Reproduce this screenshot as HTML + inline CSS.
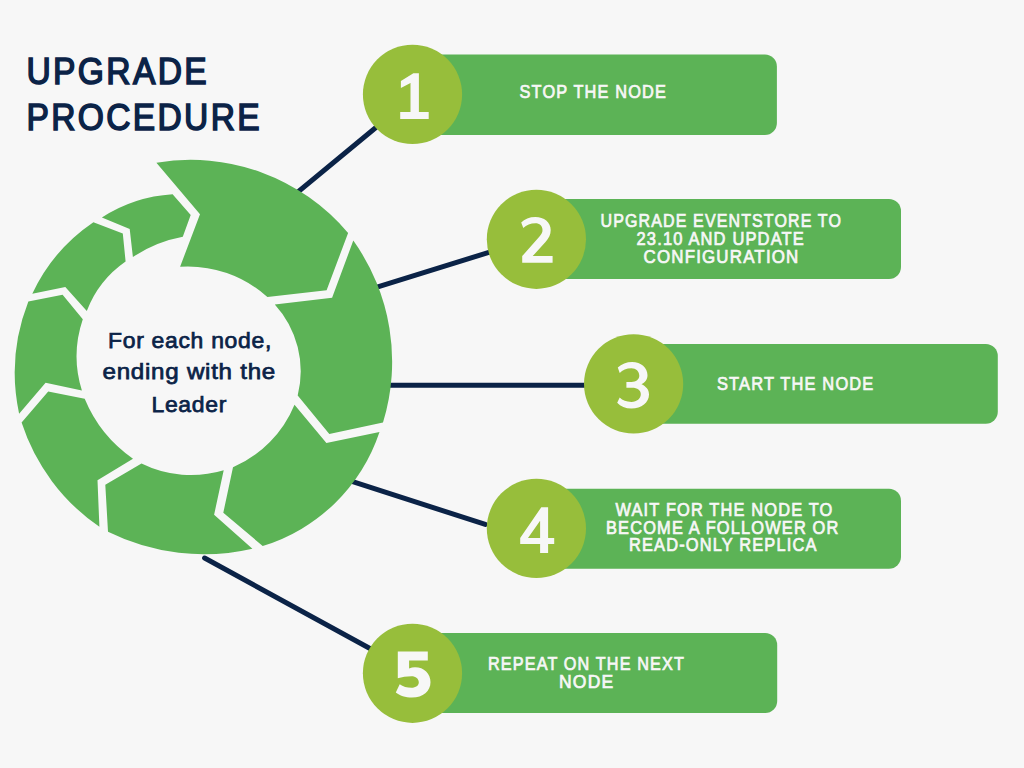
<!DOCTYPE html>
<html><head><meta charset="utf-8"><style>
html,body{margin:0;padding:0;background:#f7f7f7;}
svg{display:block;font-family:"Liberation Sans",sans-serif;}
</style></head><body>
<svg width="1024" height="768" viewBox="0 0 1024 768">
<rect width="1024" height="768" fill="#f7f7f7"/>
<line x1="250.0" y1="231.5" x2="412.5" y2="97.2" stroke="#0b2347" stroke-width="5" stroke-linecap="round"/>
<line x1="340.0" y1="298.6" x2="536.4" y2="237.6" stroke="#0b2347" stroke-width="5" stroke-linecap="round"/>
<line x1="350.0" y1="385.2" x2="633.6" y2="385.2" stroke="#0b2347" stroke-width="5" stroke-linecap="round"/>
<line x1="300.0" y1="464.7" x2="485.3" y2="524.4" stroke="#0b2347" stroke-width="5" stroke-linecap="round"/>
<line x1="204.6" y1="558.0" x2="412.5" y2="671.8" stroke="#0b2347" stroke-width="5" stroke-linecap="round"/>
<path d="M156.40 162.70 A205.99 205.99 0 0 1 348.10 233.00 L326.60 290.30 L267.40 297.10 A118.86 118.86 0 0 0 180.10 266.70 L200.00 214.30 ZM353.30 240.60 A207.91 207.91 0 0 1 383.00 422.60 L329.30 434.10 L297.70 395.40 A99.13 99.13 0 0 0 274.80 304.40 L332.10 297.70 ZM379.50 431.90 A177.96 177.96 0 0 1 262.70 546.00 L223.30 512.70 L233.00 467.30 A116.46 116.46 0 0 0 294.50 404.70 L326.40 443.00 ZM252.40 548.70 A216.25 216.25 0 0 1 108.00 531.80 L105.30 484.70 L141.50 463.50 A112.10 112.10 0 0 0 223.70 470.30 L214.10 514.80 ZM99.40 526.80 A201.90 201.90 0 0 1 21.60 422.60 L48.20 391.60 L84.70 398.80 A135.87 135.87 0 0 0 133.00 458.70 L97.50 480.30 ZM19.10 413.70 A195.79 195.79 0 0 1 28.35 301.50 L62.60 294.80 L82.80 319.20 A114.71 114.71 0 0 0 81.90 390.50 L45.60 382.70 ZM32.30 293.70 A176.86 176.86 0 0 1 93.40 222.20 L122.80 233.60 L125.60 261.50 A106.65 106.65 0 0 0 86.80 310.90 L65.30 287.10 ZM101.90 217.50 A146.99 146.99 0 0 1 172.60 194.30 L190.70 215.10 L182.80 236.80 A133.97 133.97 0 0 0 132.90 257.00 L129.70 229.00 Z" fill="#5cb356"/>
<rect x="412.5" y="54.6" width="364.4" height="80.3" rx="12" fill="#5cb356"/>
<circle cx="412.5" cy="94.4" r="49.6" fill="#97be3b"/>
<path d="M400.9 81 L413.4 73.2 L418.9 73.2 L418.9 111.9 L428.7 111.9 L428.7 118.9 L400.2 118.9 L400.2 111.9 L410.5 111.9 L410.5 83 L400.9 88 Z" fill="#f7f7f7"/>
<rect x="536.4" y="199.1" width="364.6" height="79.8" rx="12" fill="#5cb356"/>
<circle cx="536.4" cy="239.3" r="49.6" fill="#97be3b"/>
<path d="M521.2 222.5 C524.5 219 529.5 217 535.4 217 C544 217 550.7 222.3 550.7 230 C550.7 234.5 549 238 545.5 242 L532.7 256.1 L552.6 256.1 L552.6 262.7 L522.2 262.7 L522.2 256.1 L539.5 236.5 C541.5 234.2 542.5 232.3 542.5 230 C542.5 226 539.5 223.3 535.4 223.3 C530.5 223.3 526.5 225 523.3 228 Z" fill="#f7f7f7"/>
<rect x="633.6" y="344.1" width="364.2" height="79.7" rx="12" fill="#5cb356"/>
<circle cx="633.6" cy="383.9" r="49.6" fill="#97be3b"/>
<path d="M617.8 367.5 C621.5 363.8 626.5 361.9 632.2 361.9 C641 361.9 647.5 367.5 647.5 375.3 C647.5 379.5 645 382.5 641.5 384.3 C646 386.5 649 389.5 649 394.5 C649 402.5 641.5 408.5 631.4 408.5 C625.5 408.5 620.5 406.5 617.2 402.7 L619.7 397.6 C622.5 400.5 626.5 401.9 631.4 401.9 C637 401.9 640.8 398.5 640.8 394 C640.8 390.5 637.5 387.8 632 387.8 L626.4 387.8 L626.4 382 L631.5 382 C636 382 639.3 379.5 639.3 375.8 C639.3 371.3 636 368.3 631.4 368.3 C626.5 368.3 622.5 370.2 619.7 373 Z" fill="#f7f7f7"/>
<rect x="536.4" y="488.8" width="364.6" height="80.0" rx="12" fill="#5cb356"/>
<circle cx="536.4" cy="528.4" r="49.6" fill="#97be3b"/>
<path d="M541.3 507.2 L548.1 507.2 L548.1 537.9 L554.2 537.9 L554.2 543.9 L548.1 543.9 L548.1 552.9 L540.1 552.9 L540.1 543.9 L520.2 543.9 L520.2 537.9 Z M540.1 520.7 L528 537.9 L540.1 537.9 Z" fill="#f7f7f7" fill-rule="evenodd"/>
<rect x="412.5" y="633.1" width="364.7" height="80.0" rx="12" fill="#5cb356"/>
<circle cx="412.5" cy="673.3" r="49.6" fill="#97be3b"/>
<path d="M397.8 651.4 L427.8 651.4 L427.8 660.6 L409.1 660.6 L409.1 668.5 C411 667.6 413 667.2 415 667.2 C424 667.2 430.5 673.5 430.5 682.3 C430.5 691 423 697.6 412 697.6 C405.5 697.6 399.5 695.5 395.8 692.4 L399.7 684.2 C403 686.5 407 687.8 411.4 687.8 C416 687.8 418.8 685.5 418.8 682.3 C418.8 678.7 415.8 676.2 411.4 676.2 C406.5 676.2 402 677 397.8 678.2 Z" fill="#f7f7f7"/>
<text x="26.50" y="84.10" font-size="37.65" fill="#0b2347" stroke="#0b2347" stroke-width="1.6" textLength="182.50" lengthAdjust="spacingAndGlyphs" letter-spacing="2.64">UPGRADE</text>
<text x="26.50" y="129.80" font-size="37.65" fill="#0b2347" stroke="#0b2347" stroke-width="1.6" textLength="235.50" lengthAdjust="spacingAndGlyphs" letter-spacing="2.64">PROCEDURE</text>
<text x="108.00" y="347.62" font-size="22.85" fill="#0b2347" stroke="#0b2347" stroke-width="0.75" textLength="164.00" lengthAdjust="spacingAndGlyphs" letter-spacing="0.69">For each node,</text>
<text x="102.50" y="379.43" font-size="22.85" fill="#0b2347" stroke="#0b2347" stroke-width="0.75" textLength="173.50" lengthAdjust="spacingAndGlyphs" letter-spacing="0.69">ending with the</text>
<text x="151.50" y="411.52" font-size="22.85" fill="#0b2347" stroke="#0b2347" stroke-width="0.75" textLength="75.50" lengthAdjust="spacingAndGlyphs" letter-spacing="0.69">Leader</text>
<text x="519.50" y="98.35" font-size="17.65" fill="#f7f7f7" stroke="#f7f7f7" stroke-width="0.7" textLength="147.50" lengthAdjust="spacingAndGlyphs" letter-spacing="1.24">STOP THE NODE</text>
<text x="600.50" y="227.15" font-size="17.65" fill="#f7f7f7" stroke="#f7f7f7" stroke-width="0.7" textLength="241.50" lengthAdjust="spacingAndGlyphs" letter-spacing="1.24">UPGRADE EVENTSTORE TO</text>
<text x="636.50" y="245.45" font-size="17.65" fill="#f7f7f7" stroke="#f7f7f7" stroke-width="0.7" textLength="168.50" lengthAdjust="spacingAndGlyphs" letter-spacing="1.24">23.10 AND UPDATE</text>
<text x="643.50" y="263.05" font-size="17.65" fill="#f7f7f7" stroke="#f7f7f7" stroke-width="0.7" textLength="156.00" lengthAdjust="spacingAndGlyphs" letter-spacing="1.24">CONFIGURATION</text>
<text x="717.00" y="389.85" font-size="17.65" fill="#f7f7f7" stroke="#f7f7f7" stroke-width="0.7" textLength="157.50" lengthAdjust="spacingAndGlyphs" letter-spacing="1.24">START THE NODE</text>
<text x="615.50" y="515.55" font-size="17.65" fill="#f7f7f7" stroke="#f7f7f7" stroke-width="0.7" textLength="218.00" lengthAdjust="spacingAndGlyphs" letter-spacing="1.24">WAIT FOR THE NODE TO</text>
<text x="606.00" y="533.75" font-size="17.65" fill="#f7f7f7" stroke="#f7f7f7" stroke-width="0.7" textLength="233.50" lengthAdjust="spacingAndGlyphs" letter-spacing="1.24">BECOME A FOLLOWER OR</text>
<text x="629.00" y="551.05" font-size="17.65" fill="#f7f7f7" stroke="#f7f7f7" stroke-width="0.7" textLength="188.50" lengthAdjust="spacingAndGlyphs" letter-spacing="1.24">READ-ONLY REPLICA</text>
<text x="488.00" y="669.95" font-size="17.65" fill="#f7f7f7" stroke="#f7f7f7" stroke-width="0.7" textLength="197.00" lengthAdjust="spacingAndGlyphs" letter-spacing="1.24">REPEAT ON THE NEXT</text>
<text x="559.00" y="688.05" font-size="17.65" fill="#f7f7f7" stroke="#f7f7f7" stroke-width="0.7" textLength="55.50" lengthAdjust="spacingAndGlyphs" letter-spacing="1.24">NODE</text>
</svg>
</body></html>
